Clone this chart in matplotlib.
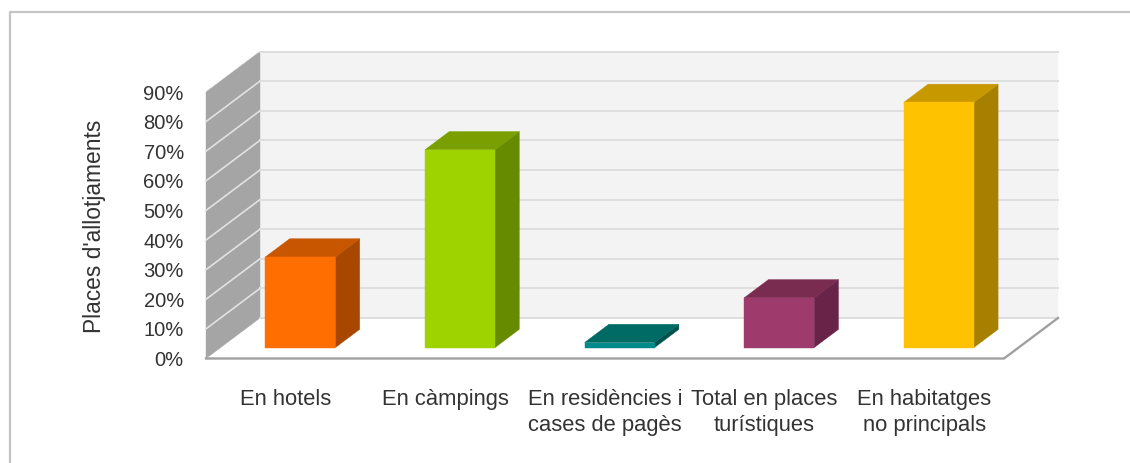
"""Oblique 3D style column chart of tourist accommodation places."""

import matplotlib
matplotlib.use("Agg")
import matplotlib.pyplot as plt
from matplotlib.lines import Line2D

plt.rcParams["font.family"] = ["Liberation Sans", "DejaVu Sans"]

categories = [
    "En hotels",
    "En càmpings",
    "En residències i\ncases de pagès",
    "Total en places\nturístiques",
    "En habitatges\nno principals",
]
values = [30.6, 66.8, 1.7, 16.8, 82.8]
y_ticks = [0, 10, 20, 30, 40, 50, 60, 70, 80, 90]
y_label = "Places d'allotjaments"

front_colors = ["#ff6e00", "#9fd300", "#008a8a", "#9e3a6c", "#ffc200"]
top_colors = ["#c85600", "#7a9f00", "#006a64", "#7a2b50", "#c89800"]
side_colors = ["#a84800", "#668a00", "#00504e", "#682348", "#a88000"]

W, H = 1130, 463
# front plane of the box, in pixels
LEFT, RIGHT, BASE, TOP = 206, 1004, 358.5, 92

# how far the back wall sits from the front plane, in data units
DEPTH_X = 54 / ((RIGHT - LEFT) / len(categories))
DEPTH_Y = 40.5 / ((BASE - TOP) / y_ticks[-1])
BAR_WIDTH = 70 / ((RIGHT - LEFT) / len(categories))
BAR_FRONT = 0.27
BAR_BACK = 0.72


def project(x, y, depth):
    return x + depth * DEPTH_X, y + depth * DEPTH_Y


def draw_poly(ax, points, color, zorder):
    ax.fill(
        [p[0] for p in points],
        [p[1] for p in points],
        facecolor=color,
        edgecolor=color,
        linewidth=0.3,
        zorder=zorder,
        clip_on=False,
    )


def draw_box(ax):
    x0, x1 = ax.get_xlim()
    y0, y1 = y_ticks[0], y_ticks[-1]

    draw_poly(ax, [project(x0, y0, 1), project(x1, y0, 1), project(x1, y1, 1), project(x0, y1, 1)], "#f3f3f3", 1)
    draw_poly(ax, [project(x0, y0, 0), project(x0, y0, 1), project(x0, y1, 1), project(x0, y1, 0)], "#a5a5a5", 1)

    for tick in y_ticks:
        bx0, by = project(x0, tick, 1)
        bx1, _ = project(x1, tick, 1)
        ax.plot([bx0, bx1], [by, by], color="#dedede", lw=1.4, zorder=2, clip_on=False)
        if y0 < tick < y1:
            ax.plot([x0, bx0], [tick, by], color="#e2e2e2", lw=1.2, zorder=2, clip_on=False)

    ex, ey = project(x1, y0, 1)
    ax.plot([x0, x1, ex], [y0, y0, ey], color="#a0a0a0", lw=1.7, zorder=4, clip_on=False, solid_joinstyle="miter")


def draw_bar(ax, pos, value, front, top, side):
    xl = pos - BAR_WIDTH / 2
    xr = pos + BAR_WIDTH / 2
    fl_b = project(xl, 0, BAR_FRONT)
    fr_b = project(xr, 0, BAR_FRONT)
    fl_t = project(xl, value, BAR_FRONT)
    fr_t = project(xr, value, BAR_FRONT)
    br_b = project(xr, 0, BAR_BACK)
    br_t = project(xr, value, BAR_BACK)
    bl_t = project(xl, value, BAR_BACK)

    draw_poly(ax, [fr_b, br_b, br_t, fr_t], side, 5)
    draw_poly(ax, [fl_t, fr_t, br_t, bl_t], top, 5)
    draw_poly(ax, [fl_b, fr_b, fr_t, fl_t], front, 6)


fig = plt.figure(figsize=(W / 100, H / 100), dpi=100)
ax = fig.add_axes([LEFT / W, 1 - BASE / H, (RIGHT - LEFT) / W, (BASE - TOP) / H])
ax.set_xlim(-0.5, len(categories) - 0.5)
ax.set_ylim(y_ticks[0], y_ticks[-1])

draw_box(ax)
for i, value in enumerate(values):
    draw_bar(ax, i, value, front_colors[i], top_colors[i], side_colors[i])

ax.set_xticks(range(len(categories)))
ax.set_xticklabels(categories, fontsize=15.8, color="#333333", linespacing=1.3)
ax.set_yticks(y_ticks)
ax.set_yticklabels([f"{t}%" for t in y_ticks], fontsize=14.5, color="#333333")
ax.tick_params(axis="x", length=0, pad=22)
ax.tick_params(axis="y", length=0, pad=16)
ax.set_ylabel(y_label, fontsize=16.4, color="#333333")
ax.yaxis.set_label_coords((106 - LEFT) / (RIGHT - LEFT), (BASE - 226) / (BASE - TOP))
for spine in ax.spines.values():
    spine.set_visible(False)
ax.patch.set_visible(False)

# outer frame of the chart, only top and left are in the picture
fig.add_artist(Line2D([10 / W, 10 / W, 1], [0, 1 - 12 / H, 1 - 12 / H], color="#c4c4c4", lw=1.6))

fig.savefig("out.png", dpi=100)
